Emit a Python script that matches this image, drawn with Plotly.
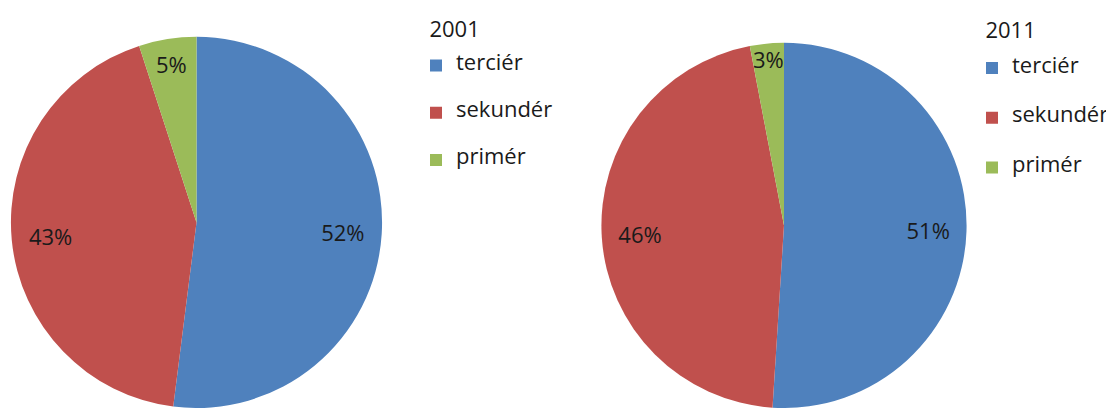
import plotly.graph_objects as go

# Sectors of the economy, share of employed (%)
categories = ["terciér", "sekundér", "primér"]
shares_2001 = [52, 43, 5]
shares_2011 = [51, 46, 3]
years = ["2001", "2011"]

colors = ["#4F81BD", "#C0504D", "#9BBB59"]
FONT = "Open Sans, Arial, sans-serif"
# page body has an 8px margin, so the figure is laid out from (8, 8)
W, H = 1130, 400


def legend_labels(names, style):
    # blank lines above and below give Excel-like spacing between legend entries
    return [f" <br><span style='{style}'>{n}</span><br> " for n in names]


def add_year(fig, values, year, domain, legend_id, style):
    labels = legend_labels(categories, style)
    # the slices themselves
    fig.add_trace(go.Pie(
        labels=labels, values=values, name=year,
        sort=False, direction="clockwise", rotation=0,
        domain=domain,
        marker=dict(colors=colors, line=dict(width=0)),
        textinfo="none", hoverinfo="skip",
        legend=legend_id,
    ))
    # transparent ring on top, only to carry the percentage labels out near the rim
    fig.add_trace(go.Pie(
        labels=labels, values=values, name=year,
        sort=False, direction="clockwise", rotation=0,
        domain=domain, hole=0.58,
        marker=dict(colors=["rgba(0,0,0,0)"] * len(values), line=dict(width=0)),
        texttemplate="%{percent:.0%}",
        textposition="inside",
        insidetextorientation="horizontal",
        textfont=dict(family=FONT, size=22, color="#1a1a1a"),
        hoverinfo="skip", showlegend=False,
    ))


fig = go.Figure()
add_year(fig, shares_2001, years[0],
         dict(x=[2 / W, 375 / W], y=[0, 1 - 27 / H]), "legend", "font-size:22px")
add_year(fig, shares_2011, years[1],
         dict(x=[590 / W, 962 / W], y=[0, 1 - 33 / H]), "legend2", "font-size: 22px")

legend_common = dict(
    xanchor="left", yanchor="top",
    itemwidth=30,
    bgcolor="rgba(0,0,0,0)", borderwidth=0,
)


def legend_title(year):
    return dict(text=f"\u00a0\u00a0{year}", font=dict(size=22))


fig.update_layout(
    width=W, height=H,
    margin=dict(l=0, r=0, t=0, b=0),
    paper_bgcolor="white",
    plot_bgcolor="white",
    font=dict(family=FONT, color="#1a1a1a"),
    showlegend=True,
    uniformtext=dict(minsize=22, mode="show"),
    legend=dict(x=408 / W, y=1 + 1.6 / H,
                title=legend_title(years[0]),
                font=dict(size=11.33),
                **legend_common),
    legend2=dict(x=964 / W, y=1 + 0.6 / H,
                 title=legend_title(years[1]),
                 font=dict(size=12),
                 **legend_common),
)

fig.write_html("out.html")
